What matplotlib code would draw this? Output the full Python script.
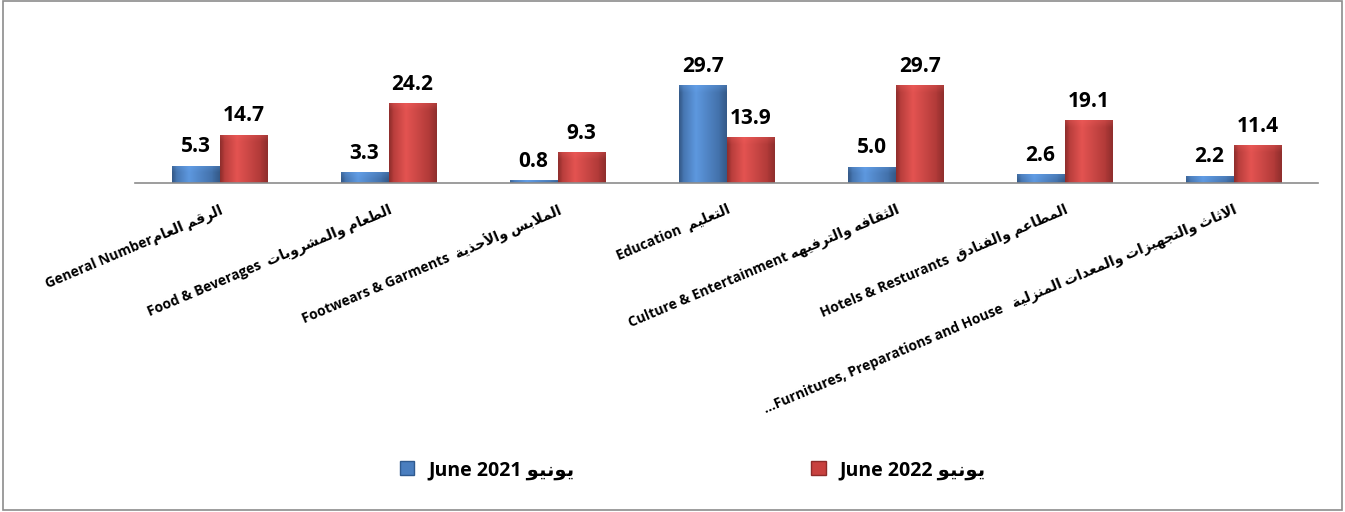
import numpy as np
import matplotlib.pyplot as plt
from matplotlib.patches import Patch, Rectangle
from matplotlib.colors import to_rgb

# data
cat_en = ['General Number', 'Food & Beverages  ', 'Footwears & Garments  ', 'Education  ',
          'Culture & Entertainment ', 'Hotels & Resturants  ', '...Furnitures, Preparations and House   ']
cat_ar = ['الرقم العام', 'الطعام والمشروبات', 'الملابس والأحذية', 'التعليم',
          'الثقافه والترفيهه', 'المطاعم والفنادق', 'الاثاث والتجهيزات والمعدات المنزلية']
june_2021 = [5.3, 3.3, 0.8, 29.7, 5.0, 2.6, 2.2]
june_2022 = [14.7, 24.2, 9.3, 13.9, 29.7, 19.1, 11.4]
month_ar = 'يونيو'

# arabic letters -> isolated presentation form, dual joining or not
AR = {'ا': (0xFE8D, False), 'أ': (0xFE83, False), 'ب': (0xFE8F, True), 'ة': (0xFE93, False),
      'ت': (0xFE95, True), 'ث': (0xFE99, True), 'ج': (0xFE9D, True), 'ح': (0xFEA1, True),
      'د': (0xFEA9, False), 'ذ': (0xFEAB, False), 'ر': (0xFEAD, False), 'ز': (0xFEAF, False),
      'س': (0xFEB1, True), 'ش': (0xFEB5, True), 'ط': (0xFEC1, True), 'ع': (0xFEC9, True),
      'ف': (0xFED1, True), 'ق': (0xFED5, True), 'ل': (0xFEDD, True), 'م': (0xFEE1, True),
      'ن': (0xFEE5, True), 'ه': (0xFEE9, True), 'و': (0xFEED, False), 'ي': (0xFEF1, True)}


def shape(s):
    out = []
    i = 0
    while i < len(s):
        c = s[i]
        if c not in AR:
            out.append(c)
            i += 1
            continue
        prev = s[i - 1] if i > 0 else ''
        jp = prev in AR and AR[prev][1]
        if c == 'ل' and i + 1 < len(s) and s[i + 1] in ('ا', 'أ'):
            b = 0xFEFB if s[i + 1] == 'ا' else 0xFEF7
            out.append(chr(b + (1 if jp else 0)))
            i += 2
            continue
        b, dual = AR[c]
        nxt = s[i + 1] if i + 1 < len(s) else ''
        jn = dual and nxt in AR
        if jp and jn:
            f = 3
        elif jp:
            f = 1
        elif jn:
            f = 2
        else:
            f = 0
        out.append(chr(b + f))
        i += 1
    return ''.join(reversed(out))


labels = [e + shape(a) for e, a in zip(cat_en, cat_ar)]

fam = ['Open Sans', 'DejaVu Sans']
plt.rcParams['font.family'] = fam

fig = plt.figure(figsize=(13.45, 5.12), dpi=100)
ax = fig.add_axes([0.1004, 0.6426, 0.8796, 0.318])

x = np.arange(len(labels))
w = 0.284
blue = '#4A7EBF'
red = '#C8413F'
b1 = ax.bar(x - w / 2, june_2021, w, color=blue, zorder=2)
b2 = ax.bar(x + w / 2, june_2022, w, color=red, zorder=2)


def grad_fill(bars, col):
    c = np.array(to_rgb(col))
    light = np.clip(c * 1.25 + 0.08, 0, 1)
    dark = c * 0.72
    xs = np.linspace(0, 1, 40)
    prof = np.interp(xs, [0, 0.08, 0.35, 0.85, 1], [0.0, 0.6, 1.0, 0.55, 0.0])
    for r in bars:
        h = r.get_height()
        n = 60
        ys = np.linspace(1, 0, n)
        hpx = h * 3.3
        top = np.clip((ys - (1 - 7 / max(hpx, 7))) / (7 / max(hpx, 7)), 0, 1)
        img = np.zeros((n, 40, 3))
        for k in range(3):
            base = dark[k] + (c[k] - dark[k]) * prof[None, :] * 1.0
            base = base + (light[k] - c[k]) * np.clip(prof[None, :] - 0.5, 0, 1)
            img[:, :, k] = base * (1 - 0.25 * top[:, None]) + light[k] * 0.25 * top[:, None]
        im = ax.imshow(np.clip(img, 0, 1), extent=[r.get_x(), r.get_x() + r.get_width(), 0, h],
                       aspect='auto', zorder=3, interpolation='bilinear')
        im.set_clip_path(r)


grad_fill(b1, blue)
grad_fill(b2, red)

for bars in (b1, b2):
    ax.bar_label(bars, fmt='%.1f', padding=6, fontsize=15, fontweight='bold', color='black')

ax.set_xlim(-0.5, len(labels) - 0.5)
ax.set_ylim(0, 49.4)
ax.set_aspect('auto')
ax.set_xticks(x)
ax.set_xticklabels(labels, rotation=23, ha='right', va='top', rotation_mode='anchor',
                   fontsize=10, fontweight='bold', family=fam)
ax.tick_params(axis='x', length=0, pad=14)
ax.set_yticks([])
for s in ['top', 'right', 'left']:
    ax.spines[s].set_visible(False)
ax.spines['bottom'].set_color('#8C8C8C')
ax.spines['bottom'].set_linewidth(1.2)
ax.spines['bottom'].set_zorder(4)

handles = [Patch(facecolor=blue, edgecolor='#2F5A8F', label='June 2021 ' + shape(month_ar)),
           Patch(facecolor=red, edgecolor='#8E2B2A', label='June 2022 ' + shape(month_ar))]
leg = fig.legend(handles=handles, loc='center', bbox_to_anchor=(0.515, 0.082), ncol=2,
                 frameon=False, handlelength=0.75, handleheight=0.75, handletextpad=0.7,
                 columnspacing=12.2, prop={'family': fam, 'weight': 'bold', 'size': 14})

fig.patches.append(Rectangle((0.002, 0.004), 0.996, 0.994, transform=fig.transFigure,
                             fill=False, edgecolor='#8C8C8C', linewidth=1.2))

fig.savefig('out.png', dpi=100)
